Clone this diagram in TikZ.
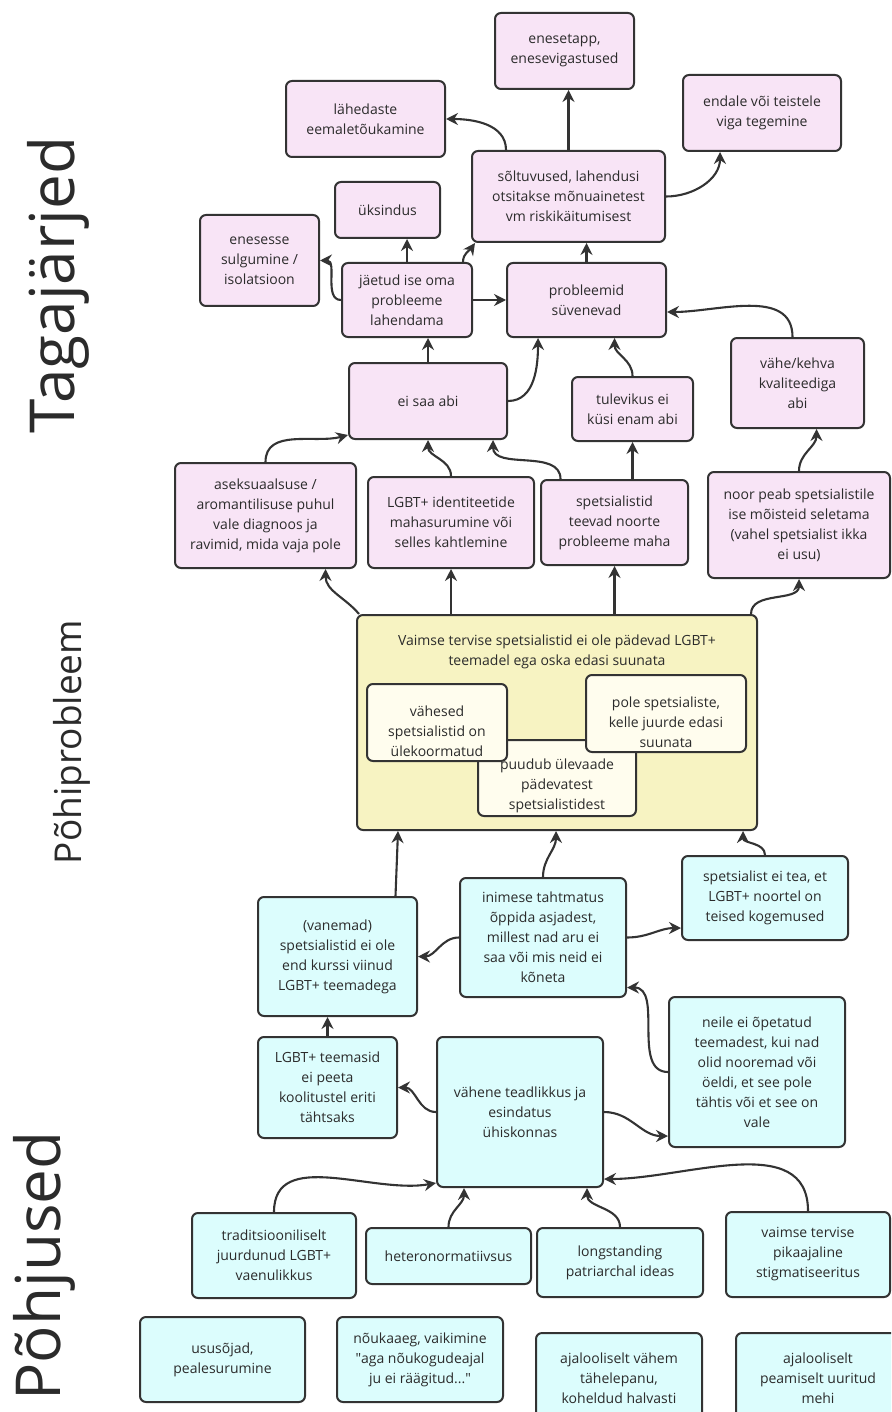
\documentclass[tikz,border=0pt]{standalone}
\usepackage{fontspec}
\setmainfont{Open Sans}
\font\plainq="Open Sans" at 14pt
\usetikzlibrary{arrows.meta,calc}
\definecolor{ln}{HTML}{333333}
\definecolor{pk}{HTML}{F8E4F6}
\definecolor{cy}{HTML}{DCFDFD}
\definecolor{yl}{HTML}{F7F3C2}
\definecolor{cr}{HTML}{FFFDEE}
\definecolor{tx}{HTML}{2B2B2B}
\tikzset{
 box/.style={draw=ln, line width=2pt, rounded corners=6pt, inner sep=0pt, align=center, text=tx, font=\fontsize{14}{20}\selectfont},
 cons/.style={box, fill=pk},
 cause/.style={box, fill=cy},
 core/.style={box, fill=yl},
 sub/.style={box, fill=cr},
 txt/.style={inner sep=0pt, align=center, text=tx, font=\fontsize{14}{20}\selectfont},
 arr/.style={draw=ln, line width=2.1pt, -{Stealth[length=12pt,width=12pt,inset=4pt]}},
 side/.style={rotate=90, text=tx, inner sep=0pt}
}
\newcommand\bx[7]{\node[#6, minimum width={(#4)-(#2)}, minimum height={(#5)-(#3)}] (#1) at ({((#2)+(#4))/2},{-((#3)+(#5))/2}) {#7};}
\newcommand\sq{{\plainq"}}
\begin{document}
\begin{tikzpicture}[x=1pt,y=1pt]
\useasboundingbox (0,0) rectangle (891,-1412);
\fill[white] (0,0) rectangle (891,-1412);
\clip (0,0) rectangle (891,-1412);
% side labels
\node[side, font=\fontsize{62}{62}\selectfont] (tag) at (58,-285) {Tagajärjed};
\node[side, font=\fontsize{37}{37}\selectfont] (pohi) at (72,-742) {Põhiprobleem};
\node[side, font=\fontsize{62}{62}\selectfont] (pohj) at (44,-1266) {Põhjused};
% consequences
\bx{enes}{495}{13}{634}{89}{cons}{enesetapp,\\enesevigastused}
\bx{lahed}{286}{81}{445}{157}{cons}{lähedaste\\eemaletõukamine}
\bx{endale}{683}{75}{841}{151}{cons}{endale või teistele\\viga tegemine}
\bx{solt}{472}{151}{665}{242}{cons}{sõltuvused, lahendusi\\otsitakse mõnuainetest\\vm riskikäitumisest}
\bx{uks}{335}{182}{440}{238}{cons}{üksindus}
\bx{enesesse}{200}{215}{319}{306}{cons}{enesesse\\sulgumine /\\isolatsioon}
\bx{jaet}{342}{263}{472}{337}{cons}{jäetud ise oma\\probleeme\\lahendama}
\bx{probl}{507}{263}{666}{337}{cons}{probleemid\\süvenevad}
\bx{eisaa}{349}{363}{507}{439}{cons}{ei saa abi}
\bx{tulev}{572}{377}{693}{441}{cons}{tulevikus ei\\küsi enam abi}
\bx{vahe}{731}{338}{864}{428}{cons}{vähe/kehva\\kvaliteediga\\abi}
\bx{asek}{175}{463}{356}{568}{cons}{aseksuaalsuse /\\aromantilisuse puhul\\vale diagnoos ja\\ravimid, mida vaja pole}
\bx{lgbt}{368}{477}{534}{568}{cons}{LGBT+ identiteetide\\mahasurumine või\\selles kahtlemine}
\bx{spet}{541}{480}{688}{565}{cons}{spetsialistid\\teevad noorte\\probleeme maha}
\bx{noor}{708}{472}{890}{578}{cons}{noor peab spetsialistile\\ise mõisteid seletama\\(vahel spetsialist ikka\\ei usu)}
% core problem
\bx{main}{357}{615}{757}{830}{core}{}
\node[txt] (maint) at (557,-652) {Vaimse tervise spetsialistid ei ole pädevad LGBT+\\teemadel ega oska edasi suunata};
\bx{puud}{478}{740}{636}{816}{sub}{}
\node[txt] (puudt) at (557,-786) {puudub ülevaade\\pädevatest\\spetsialistidest};
\bx{vahes}{367}{684}{507}{761}{sub}{}
\node[txt] (vahest) at (437,-731) {vähesed\\spetsialistid on\\ülekoormatud};
\bx{pole}{586}{675}{746}{752}{sub}{}
\node[txt] (polet) at (666,-722) {pole spetsialiste,\\kelle juurde edasi\\suunata};
% causes
\bx{spte}{682}{856}{848}{940}{cause}{spetsialist ei tea, et\\LGBT+ noortel on\\teised kogemused}
\bx{inim}{460}{878}{626}{997}{cause}{inimese tahtmatus\\õppida asjadest,\\millest nad aru ei\\saa või mis neid ei\\kõneta}
\bx{vanem}{258}{897}{417}{1016}{cause}{(vanemad)\\spetsialistid ei ole\\end kurssi viinud\\LGBT+ teemadega}
\bx{neile}{669}{997}{845}{1147}{cause}{neile ei õpetatud\\teemadest, kui nad\\olid nooremad või\\öeldi, et see pole\\tähtis või et see on\\vale}
\bx{lgbtt}{258}{1037}{397}{1138}{cause}{LGBT+ teemasid\\ei peeta\\koolitustel eriti\\tähtsaks}
\bx{vahene}{437}{1037}{603}{1187}{cause}{vähene teadlikkus ja\\esindatus\\ühiskonnas}
\bx{trad}{192}{1213}{356}{1298}{cause}{traditsiooniliselt\\juurdunud LGBT+\\vaenulikkus}
\bx{hetero}{366}{1228}{531}{1284}{cause}{heteronormatiivsus}
\bx{long}{537}{1228}{703}{1297}{cause}{longstanding\\patriarchal ideas}
\bx{vaimse}{726}{1212}{890}{1297}{cause}{vaimse tervise\\pikaajaline\\stigmatiseeritus}
\bx{usu}{140}{1317}{305}{1402}{cause}{ususõjad,\\pealesurumine}
\bx{nouk}{337}{1317}{503}{1402}{cause}{nõukaaeg, vaikimine\\\sq aga nõukogudeajal\\ju ei räägitud...\sq}
\bx{ajav}{536}{1333}{702}{1423}{cause}{ajalooliselt vähem\\tähelepanu,\\koheldud halvasti}
\bx{ajap}{736}{1333}{900}{1423}{cause}{ajalooliselt\\peamiselt uuritud\\mehi}
% edges: consequences
\draw[arr] ([xshift=35pt]solt.north west) to[out=90,in=0] (lahed.east);
\draw[arr] (solt.north) -- (solt.north |- enes.south);
\draw[arr] (solt.east) to[out=0,in=-90] ([xshift=38pt]endale.south west);
\draw[arr] (jaet.west) to[out=180,in=0] (enesesse.east);
\draw[arr] (jaet.north) -- (jaet.north |- uks.south);
\draw[arr] ([xshift=-10pt]jaet.north east) to[out=90,in=235] ([xshift=4pt]solt.south west);
\draw[arr] (jaet.east) -- (probl.west);
\draw[arr] (probl.north) -- (probl.north |- solt.south);
\draw[arr] ([xshift=-5pt]vahe.north) to[out=90,in=0] ([yshift=-12pt]probl.east);
\draw[arr] (eisaa.north) -- (eisaa.north |- jaet.south);
\draw[arr] (eisaa.east) to[out=0,in=-90] ([xshift=32pt]probl.south west);
\draw[arr] (tulev.north) to[out=90,in=-90] ([xshift=28pt]probl.south);
\draw[arr] (asek.north) to[out=90,in=195] ([yshift=-34pt]eisaa.west);
\draw[arr] (lgbt.north) to[out=90,in=-90] (eisaa.south);
\draw[arr] ([xshift=-54pt]spet.north) to[out=90,in=-90] ([xshift=65pt]eisaa.south);
\draw[arr] (tulev.south |- spet.north) -- (tulev.south);
\draw[arr] (noor.north) to[out=90,in=-90] ([xshift=19pt]vahe.south);
% edges: core
\draw[arr] ([xshift=3pt]main.north west) to[out=130,in=-90] ([xshift=60pt]asek.south);
\draw[arr] (lgbt.south |- main.north) -- (lgbt.south);
\draw[arr] (spet.south |- main.north) -- (spet.south);
\draw[arr] ([xshift=-7pt]main.north east) to[out=90,in=-90] (noor.south);
% edges: causes
\draw[arr] ([xshift=58pt]vanem.north) -- ([xshift=42pt]main.south west);
\draw[arr] (inim.north) to[out=90,in=-90] ([xshift=200pt]main.south west);
\draw[arr] (spte.north) to[out=90,in=-90] ([xshift=-15pt]main.south east);
\draw[arr] (inim.west) to[out=180,in=0] (vanem.east);
\draw[arr] (inim.east) to[out=0,in=180] ([yshift=-30pt]spte.west);
\draw[arr] (neile.west) to[out=180,in=0] ([yshift=-50pt]inim.east);
\draw[arr] (lgbtt.north) -- (lgbtt.north |- vanem.south);
\draw[arr] (vahene.west) to[out=180,in=0] (lgbtt.east);
\draw[arr] (vahene.east) to[out=0,in=180] ([yshift=-64pt]neile.west);
\draw[arr] (trad.north) to[out=90,in=190] ([yshift=5pt]vahene.south west);
\draw[arr] (hetero.north) to[out=90,in=-90] ([xshift=28pt]vahene.south west);
\draw[arr] (long.north) to[out=90,in=-90] ([xshift=-17pt]vahene.south east);
\draw[arr] (vaimse.north) to[out=90,in=0] ([yshift=9pt]vahene.south east);
\end{tikzpicture}
\end{document}
